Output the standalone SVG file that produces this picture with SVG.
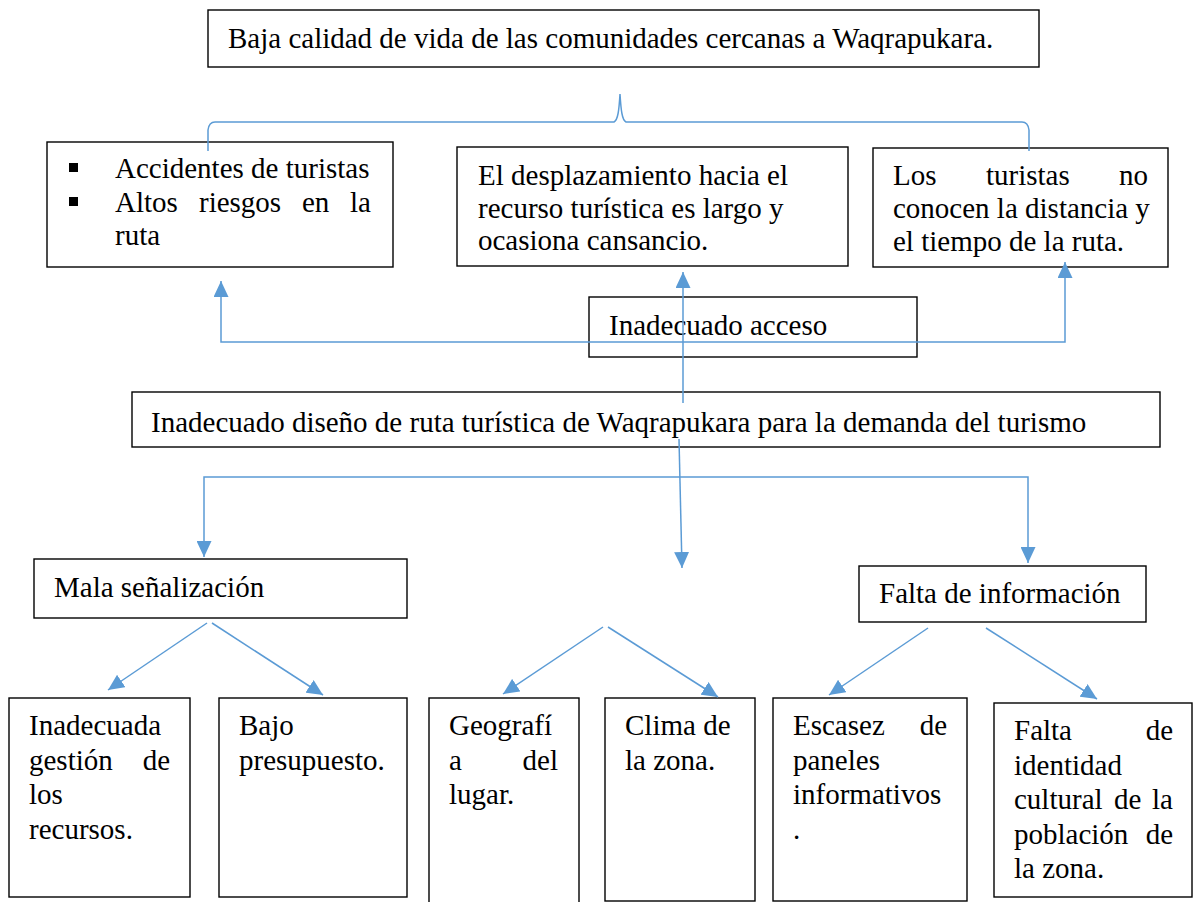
<svg xmlns="http://www.w3.org/2000/svg" width="1196" height="902" viewBox="0 0 1196 902">
<style>
.box{fill:#fff;stroke:#000;stroke-width:1.4}
.t{font-family:"Liberation Serif","Times New Roman",serif;font-size:29px;fill:#000}
.c{fill:none;stroke:#5B9BD5;stroke-width:1.5}
.a{fill:none;stroke:#5B9BD5;stroke-width:1.5;marker-end:url(#ah)}
.e{text-anchor:end}
</style>
<defs>
<marker id="ah" markerUnits="userSpaceOnUse" markerWidth="16" markerHeight="15" refX="16" refY="7.5" orient="auto">
<path d="M0,0 L16,7.5 L0,15 z" fill="#5B9BD5"/>
</marker>
</defs>
<rect width="1196" height="902" fill="#fff"/>

<g id="n-top">
<rect class="box" x="208" y="10" width="831" height="57"/>
<text class="t" x="228" y="48">Baja calidad de vida de las comunidades cercanas a Waqrapukara.</text>
</g>

<g id="n-accidentes">
<rect class="box" x="47" y="142" width="346" height="125"/>
<rect x="69" y="163" width="9" height="9" fill="#000"/>
<rect x="69" y="197" width="9" height="9" fill="#000"/>
<text class="t" x="115" y="178">Accidentes de turistas</text>
<text class="t" y="212"><tspan x="115">Altos</tspan><tspan x="199">riesgos</tspan><tspan x="302">en</tspan><tspan x="371" class="e">la</tspan></text>
<text class="t" x="115" y="245">ruta</text>
</g>

<g id="n-desplazamiento">
<rect class="box" x="457" y="147" width="391" height="119"/>
<text class="t" x="478" y="185">El desplazamiento hacia el</text>
<text class="t" x="478" y="218">recurso turística es largo y</text>
<text class="t" x="478" y="250">ocasiona cansancio.</text>
</g>

<g id="n-turistas">
<rect class="box" x="873" y="148" width="295" height="119"/>
<text class="t" y="185"><tspan x="893">Los</tspan><tspan x="986">turistas</tspan><tspan x="1148" class="e">no</tspan></text>
<text class="t" x="893" y="218">conocen la distancia y</text>
<text class="t" x="893" y="251">el tiempo de la ruta.</text>
</g>

<g id="n-acceso">
<rect class="box" x="589" y="297" width="328" height="60"/>
<text class="t" x="609" y="335">Inadecuado acceso</text>
</g>

<g id="n-diseno">
<rect class="box" x="132" y="392" width="1028" height="55"/>
<text class="t" x="151" y="432">Inadecuado diseño de ruta turística de Waqrapukara para la demanda del turismo</text>
</g>

<g id="n-senalizacion">
<rect class="box" x="34" y="559" width="373" height="59"/>
<text class="t" x="54" y="597">Mala señalización</text>
</g>

<g id="n-informacion">
<rect class="box" x="859" y="566" width="287" height="56"/>
<text class="t" x="879" y="603">Falta de información</text>
</g>

<g id="n-gestion">
<rect class="box" x="9" y="698" width="181" height="199"/>
<text class="t" x="29" y="735">Inadecuada</text>
<text class="t" y="769.5"><tspan x="29">gestión</tspan><tspan x="170" class="e">de</tspan></text>
<text class="t" x="29" y="804">los</text>
<text class="t" x="29" y="838.5">recursos.</text>
</g>

<g id="n-presupuesto">
<rect class="box" x="219" y="698" width="188" height="199"/>
<text class="t" x="239" y="735">Bajo</text>
<text class="t" x="239" y="769.5">presupuesto.</text>
</g>

<g id="n-geografia">
<rect class="box" x="429" y="698" width="150" height="210"/>
<text class="t" x="449" y="735">Geografí</text>
<text class="t" y="769.5"><tspan x="449">a</tspan><tspan x="558" class="e">del</tspan></text>
<text class="t" x="449" y="804">lugar.</text>
</g>

<g id="n-clima">
<rect class="box" x="605" y="698" width="150" height="203"/>
<text class="t" x="625" y="735">Clima de</text>
<text class="t" x="625" y="769.5">la zona.</text>
</g>

<g id="n-escasez">
<rect class="box" x="773" y="698" width="194" height="203"/>
<text class="t" y="735"><tspan x="793">Escasez</tspan><tspan x="947" class="e">de</tspan></text>
<text class="t" x="793" y="769.5">paneles</text>
<text class="t" x="793" y="804">informativos</text>
<text class="t" x="793" y="838.5">.</text>
</g>

<g id="n-identidad">
<rect class="box" x="994" y="703" width="198" height="194"/>
<text class="t" y="740"><tspan x="1014">Falta</tspan><tspan x="1173" class="e">de</tspan></text>
<text class="t" x="1014" y="774.5">identidad</text>
<text class="t" y="809"><tspan x="1014">cultural</tspan><tspan x="1114">de</tspan><tspan x="1173" class="e">la</tspan></text>
<text class="t" y="843.5"><tspan x="1014">población</tspan><tspan x="1173" class="e">de</tspan></text>
<text class="t" x="1014" y="878">la zona.</text>
</g>

<g id="connectors">
<path class="c" d="M208,151 L208,130 Q209,122 215,122 L614,122 C618,120 619,110 620,94 C621,110 622,120 626,122 L1022,122 Q1028,122 1029,130 L1029,151"/>
<path class="a" d="M683,342 L221,342 L221,281"/>
<path class="a" d="M683,342 L1065,342 L1065,262"/>
<path class="a" d="M683,403 L683,272"/>
<path class="a" d="M679,439 L682,568"/>
<path class="a" d="M616,477 L204,477 L204,557"/>
<path class="a" d="M616,477 L1028,477 L1028,563"/>
<path class="a" d="M207,623 L108,690"/>
<path class="a" d="M212,623 L323,695"/>
<path class="a" d="M603,627 L503,694"/>
<path class="a" d="M608,627 L718,697"/>
<path class="a" d="M928,628 L829,695"/>
<path class="a" d="M986,628 L1097,699"/>
</g>
</svg>
